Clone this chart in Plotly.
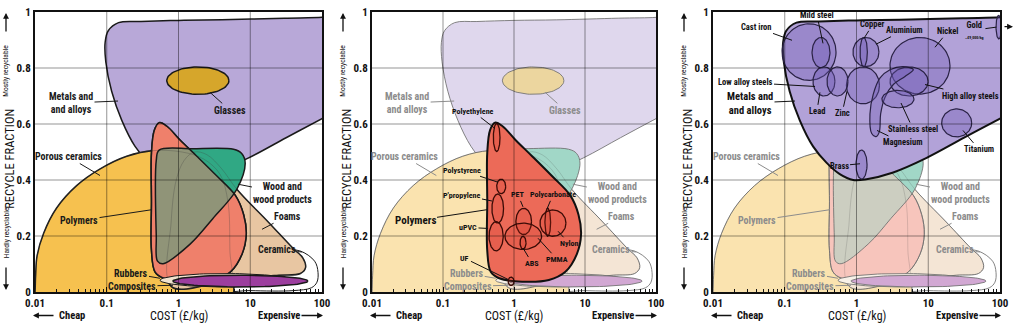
import numpy as np
import plotly.graph_objects as go

# ===================== DATA (cost in £/kg, recycle fraction 0-1) =====================
x_tick_vals = [0.01, 0.1, 1, 10, 100]
x_tick_text = ["0.01", "0.1", "1", "10", "100"]
y_tick_vals = [0, 0.2, 0.4, 0.6, 0.8, 1.0]
y_tick_text = ["0", "0.2", "0.4", "0.6", "0.8", "1"]
x_minor_vals = [m * 10.0 ** e for e in range(-2, 2) for m in range(2, 10)]

# material-family envelopes (outline vertices)
metals_cost = [126, 100, 30, 4.0, 1.0, 0.3, 0.146, 0.105, 0.095, 0.097, 0.117, 0.162, 0.248,
               0.381, 0.585, 0.90, 1.38, 3.25, 9.5, 31.6, 100, 126, 126]
metals_frac = [0.985, 0.981, 0.978, 0.972, 0.970, 0.966, 0.962, 0.933, 0.892, 0.822, 0.717, 0.613,
               0.520, 0.462, 0.421, 0.400, 0.403, 0.427, 0.479, 0.551, 0.619, 0.632, 0.985]

porous_cost = [1.0, 0.0097, 0.0100, 0.0102, 0.0107, 0.0132, 0.020, 0.038, 0.081, 0.19, 0.45,
               1.12, 2.24, 3.8, 4.9, 5.2, 5.25, 1.0]
porous_frac = [-0.03, -0.03, 0.0, 0.06, 0.13, 0.21, 0.30, 0.38, 0.44, 0.485, 0.505,
               0.50, 0.475, 0.42, 0.32, 0.15, -0.03, -0.03]

foams_cost = [3.2, 0.79, 0.79, 0.93, 1.2, 1.66, 2.5, 4.0, 6.5, 17.8, 39.8, 54, 59, 50, 25, 10, 3.2]
foams_frac = [0.03, 0.02, 0.25, 0.40, 0.47, 0.50, 0.49, 0.44, 0.367, 0.25, 0.155, 0.122, 0.087,
              0.066, 0.06, 0.05, 0.03]

ceram_cost = [10, 4.2, 4.5, 7.9, 25, 49, 79, 88, 85, 71, 40, 10]
ceram_frac = [0.005, 0.01, 0.10, 0.14, 0.15, 0.147, 0.11, 0.07, 0.035, 0.015, 0.005, 0.005]

poly_cost = [0.54, 0.69, 1.05, 1.8, 3.4, 6.2, 8.1, 8.8, 7.7, 5.3, 3.1, 1.3, 0.62, 0.47, 0.42,
             0.42, 0.42, 0.46, 0.54]
poly_frac = [0.605, 0.592, 0.543, 0.485, 0.415, 0.345, 0.276, 0.206, 0.136, 0.072, 0.043, 0.037,
             0.049, 0.072, 0.148, 0.322, 0.497, 0.578, 0.605]

wood_cost = [1.58, 5.85, 7.6, 8.5, 6.5, 3.0, 1.45, 0.61, 0.51, 0.49, 0.49, 0.537, 1.58]
wood_frac = [0.512, 0.51, 0.495, 0.46, 0.367, 0.262, 0.171, 0.101, 0.11, 0.2, 0.47, 0.507, 0.512]

# elliptical families: centre cost, centre fraction, half-width (decades), half-height
glass_ell = (1.86, 0.755, 0.433, 0.049)
rubber_ell = (4.45, 0.042, 0.906, 0.024)
composite_ell = (7.3, 0.039, 0.94, 0.021)

# individual polymers
poly_names = ["Polyethylene", "Polystyrene", "P'propylene", "uPVC", "UF", "PET", "PMMA", "ABS",
              "Polycarbonate", "Nylon"]
poly_c = [0.57, 0.66, 0.59, 0.56, 0.91, 1.37, 1.35, 1.34, 2.99, 3.54]
poly_f = [0.552, 0.377, 0.298, 0.199, 0.038, 0.252, 0.199, 0.176, 0.249, 0.246]
poly_rx = [0.047, 0.063, 0.082, 0.10, 0.042, 0.11, 0.258, 0.042, 0.04, 0.183]
poly_ry = [0.05, 0.026, 0.052, 0.052, 0.015, 0.047, 0.047, 0.023, 0.05, 0.047]

# individual metals
metal_names = ["Cast iron", "Mild steel", "Aluminium", "Copper", "Copper core", "Lead", "Zinc",
               "Nickel", "High alloy steels", "Stainless steel", "Titanium", "Brass", "Gold"]
metal_c = [0.218, 0.320, 1.23, 1.355, 1.26, 0.352, 0.543, 7.67, 5.40, 3.78, 24.9, 1.175, 96.2]
metal_f = [0.857, 0.855, 0.738, 0.857, 0.857, 0.752, 0.752, 0.808, 0.752, 0.689, 0.604, 0.455, 0.946]
metal_rx = [0.376, 0.125, 0.23, 0.181, 0.051, 0.153, 0.146, 0.418, 0.265, 0.223, 0.209, 0.077, 0.039]
metal_ry = [0.101, 0.054, 0.066, 0.052, 0.052, 0.052, 0.052, 0.101, 0.052, 0.031, 0.050, 0.052, 0.042]

magnesium_cost = [1.71, 2.13, 2.93, 4.49, 6.19, 4.74, 3.26, 2.49, 2.17, 2.08, 1.87, 1.63, 1.54, 1.71]
magnesium_frac = [0.706, 0.765, 0.794, 0.805, 0.794, 0.770, 0.741, 0.695, 0.636, 0.572, 0.555,
                  0.566, 0.636, 0.706]

# ===================== STYLE / LAYOUT =====================
W, H = 1019, 325
ML, MR, MT, MB = 35, 19, 6, 33
PW, PH = W - ML - MR, H - MT - MB
PANEL_L = [35, 372, 713]
PANEL_R = [322, 656, 1000]
FONT = "Liberation Sans Narrow, Roboto Condensed, DejaVu Sans Condensed, Arial Narrow, Roboto, sans-serif"

COL = dict(metals=(184, 168, 216), glass=(214, 166, 43), porous=(246, 193, 79),
           foams=(232, 198, 162), polymers=(239, 128, 107), wood=(48, 168, 132),
           rubbers=(240, 226, 205), composites=(156, 62, 158))


def rgba(c, a=1.0):
    return f"rgba({c[0]},{c[1]},{c[2]},{a})"


def fade(c, k):
    return tuple(int(v + (255 - v) * k) for v in c)


def ellipse(c, f, rx, ry, n=90):
    t = np.linspace(0, 2 * np.pi, n)
    return 10 ** (np.log10(c) + rx * np.cos(t)), f + ry * np.sin(t)


def ax_names(p):
    return ("x", "y") if p == 1 else (f"x{p}", f"y{p}")


fig = go.Figure()


def region(p, xs, ys, fill=None, lc="rgba(0,0,0,0)", lw=0.0, smooth=True):
    xa, ya = ax_names(p)
    fig.add_trace(go.Scatter(
        x=list(xs), y=list(ys), xaxis=xa, yaxis=ya, mode="lines",
        fill="toself" if fill else "none", fillcolor=fill,
        line=dict(color=lc, width=lw, shape="spline" if smooth else "linear", smoothing=1.0),
        hoverinfo="skip", showlegend=False))


for p in (1, 2, 3):
    faded = p != 1
    k = 0.55 if faded else 0.0
    lc = "rgba(110,110,110,0.85)" if faded else "#1a1a1a"
    lw = 1.0 if faded else 1.5
    c = {n: fade(v, k) for n, v in COL.items()}

    if p != 3:
        region(p, metals_cost, metals_frac, rgba(c["metals"]), lc, lw)
        gx, gy = ellipse(*glass_ell)
        region(p, gx, gy, rgba(c["glass"]), lc, lw, smooth=False)
    region(p, ceram_cost, ceram_frac, None, lc, 1.0)
    region(p, porous_cost, porous_frac, rgba(c["porous"]), lc, lw)
    region(p, foams_cost, foams_frac, rgba(c["foams"]), lc, lw)
    if p != 2:
        region(p, poly_cost, poly_frac, rgba(c["polymers"]), lc, lw)
    region(p, wood_cost, wood_frac, rgba(c["wood"]))
    if p != 2:
        region(p, poly_cost, poly_frac, rgba(c["polymers"], 0.5))
    faint = "rgba(60,60,60,0.28)" if not faded else "rgba(60,60,60,0.18)"
    region(p, porous_cost, porous_frac, None, faint, 1.0)
    region(p, foams_cost, foams_frac, None, faint, 1.0)
    region(p, wood_cost, wood_frac, None, lc, lw)
    if p != 2:
        region(p, poly_cost, poly_frac, None, lc, lw)
    rx_, ry_ = ellipse(*rubber_ell)
    region(p, rx_, ry_, rgba(c["rubbers"]), lc, 1.0, smooth=False)
    cx_, cy_ = ellipse(*composite_ell)
    region(p, cx_, cy_, rgba(c["composites"]), lc, lw, smooth=False)

    if p == 2:
        region(p, poly_cost, poly_frac, rgba((236, 106, 88)), "#111", 2.0)
        for i in range(len(poly_names)):
            ex, ey = ellipse(poly_c[i], poly_f[i], poly_rx[i], poly_ry[i])
            region(p, ex, ey, "rgba(205,50,35,0.18)", "#3b0b06", 1.3, smooth=False)
    if p == 3:
        region(p, metals_cost, metals_frac, rgba((178, 162, 216)), "#111", 2.0)
        for i in range(len(metal_names)):
            if metal_names[i] == "Stainless steel":
                region(p, magnesium_cost, magnesium_frac, "rgba(110,90,180,0.35)", "#2a2245", 1.2)
            ex, ey = ellipse(metal_c[i], metal_f[i], metal_rx[i], metal_ry[i])
            region(p, ex, ey, "rgba(110,90,180,0.35)", "#2a2245", 1.2, smooth=False)

# ---------------- axes ----------------
layout = dict(width=W, height=H, margin=dict(l=ML, r=MR, t=MT, b=MB),
              paper_bgcolor="white", plot_bgcolor="white", showlegend=False,
              font=dict(family=FONT, color="#111"))
shapes = []
for p in (1, 2, 3):
    d0 = (PANEL_L[p - 1] - ML) / PW
    d1 = (PANEL_R[p - 1] - ML) / PW
    xa, ya = ax_names(p)
    xkey = "xaxis" if p == 1 else f"xaxis{p}"
    ykey = "yaxis" if p == 1 else f"yaxis{p}"
    layout[xkey] = dict(domain=[d0, d1], anchor=ya, type="log", range=[-2, 2],
                        tickvals=x_tick_vals, ticktext=x_tick_text, ticks="inside", ticklen=5,
                        tickcolor="#111", tickwidth=1,
                        minor=dict(tickvals=x_minor_vals, ticks="inside", ticklen=3,
                                   tickcolor="#111", showgrid=False),
                        showgrid=False, zeroline=False, showline=True, mirror=True,
                        linecolor="#111", linewidth=2, layer="above traces",
                        tickfont=dict(family=FONT, size=11, color="#111", weight="bold"))
    layout[ykey] = dict(domain=[0, 1], anchor=xa, range=[0, 1], tickvals=y_tick_vals,
                        ticktext=y_tick_text, ticks="", showgrid=False, zeroline=False,
                        showline=True, mirror=True, linecolor="#111", linewidth=2,
                        layer="above traces",
                        tickfont=dict(family=FONT, size=11, color="#111", weight="bold"))
    for v in x_tick_vals[1:-1]:
        shapes.append(dict(type="line", layer="above", xref=xa, yref=f"{ya} domain",
                           x0=v, x1=v, y0=0, y1=1,
                           line=dict(color="rgba(0,0,0,0.42)", width=1)))
    for v in y_tick_vals[1:-1]:
        shapes.append(dict(type="line", layer="above", xref=f"{xa} domain", yref=ya,
                           x0=0, x1=1, y0=v, y1=v,
                           line=dict(color="rgba(0,0,0,0.42)", width=1)))
layout["shapes"] = shapes
fig.update_layout(**layout)


# ---------------- annotations ----------------
def X(px):
    return (px - ML) / PW


def Y(py):
    return (H - MB - py) / PH


ann = []


def label(p, text, tip_log, tip_f, dx, dy, color, size=10, weight="bold"):
    xa, ya = ax_names(p)
    ann.append(dict(xref=xa, yref=ya, x=tip_log, y=tip_f, ax=dx, ay=dy, text=text,
                    showarrow=True, arrowhead=0, arrowwidth=1, arrowcolor=color,
                    font=dict(family=FONT, size=size, color=color, weight=weight),
                    align="center", borderpad=1))


def ptext(x, y, text, size, color="#111", angle=0, weight="bold"):
    ann.append(dict(xref="paper", yref="paper", x=X(x), y=Y(y), text=text, showarrow=False,
                    textangle=angle, xanchor="center", yanchor="middle",
                    font=dict(family=FONT, size=size, color=color, weight=weight)))


def parrow(x0, y0, x1, y1):
    # arrow from (x0,y0) to head at (x1,y1), pixel coordinates
    ann.append(dict(xref="paper", yref="paper", x=X(x1), y=Y(y1), ax=x0 - x1, ay=y0 - y1,
                    text="", showarrow=True, arrowhead=2, arrowsize=0.9, arrowwidth=1.3,
                    arrowcolor="#111"))


fam_labels = [
    ("Metals and<br>and alloys", -0.843, 0.682, -47, 2),
    ("Glasses", 0.439, 0.713, 20, 18),
    ("Porous ceramics", -1.094, 0.416, -32, -19),
    ("Polymers", -0.369, 0.294, -73, 11),
    ("Wood and<br>wood products", 0.829, 0.385, 45, 9),
    ("Foams", 1.164, 0.224, 25, -13),
    ("Ceramics", 1.721, 0.143, -25, -2),
    ("Rubbers", -0.258, 0.049, -29, -5),
    ("Composites", -0.077, 0.024, -41, 1),
]
for p in (1, 2, 3):
    for t, lx, lf, dx, dy in fam_labels:
        if p == 3 and t == "Glasses":
            continue
        if p == 2 and t == "Polymers":
            continue
        if p == 3 and t.startswith("Metals"):
            continue
        col = "#1a1a1a" if p == 1 else "#8c8c8c"
        label(p, t, lx, lf, dx, dy, col, 10)

label(2, "Polymers", -0.380, 0.294, -72, 11, "#111", 11)
poly_labels = [
    ("Polyethylene", -0.268, 0.584, -22, -17),
    ("Polystyrene", -0.225, 0.392, -36, -12),
    ("P'propylene", -0.31, 0.325, -30, -6),
    ("uPVC", -0.366, 0.227, -20, -1),
    ("UF", -0.085, 0.045, -43, -21),
    ("PET", 0.127, 0.304, -5, -12),
    ("Polycarbonate", 0.465, 0.297, 6, -14),
    ("ABS", 0.127, 0.157, 9, 15),
    ("PMMA", 0.338, 0.192, 19, 21),
    ("Nylon", 0.620, 0.217, 11, 12),
]
for t, lx, lf, dx, dy in poly_labels:
    label(2, t, lx, lf, dx, dy, "#111", 8)

label(3, "Metals and<br>and alloys", -0.857, 0.682, -45, 2, "#111", 10.5)
metal_labels = [
    ("Cast iron", -0.899, 0.899, -36, -13),
    ("Mild steel", -0.467, 0.888, -6, -28),
    ("Copper", 0.104, 0.906, 9, -14),
    ("Aluminium", 0.272, 0.885, 28, -14),
    ("Nickel", 1.094, 0.874, 13, -16),
    ("Low alloy steels", -0.578, 0.734, -70, -4),
    ("Lead", -0.51, 0.713, -3, 19),
    ("Zinc", -0.132, 0.717, -5, 22),
    ("High alloy steels", 0.955, 0.741, 45, 11),
    ("Stainless steel", 0.62, 0.675, 12, 26),
    ("Magnesium", 0.286, 0.577, 25, 12),
    ("Titanium", 1.484, 0.577, 16, 19),
    ("Brass", 0.049, 0.458, -21, 2),
    ("Gold<br><span style='font-size:4px'>~£9,000/kg</span>", 1.95, 0.946, -22, 3),
]
for t, lx, lf, dx, dy in metal_labels:
    label(3, t, lx, lf, dx, dy, "#111", 8.5)
parrow(1003, 21, 1013, 21)

for i in range(3):
    L, R = PANEL_L[i], PANEL_R[i]
    ptext(L - 25, 156, "RECYCLE FRACTION", 12.5, angle=-90, weight="normal")
    ptext(L - 29, 66, "Mostly recyclable", 7.5, angle=-90, weight="normal")
    ptext(L - 29, 232, "Hardly recyclable", 7.5, angle=-90, weight="normal")
    parrow(L - 29, 27, L - 29, 7)
    parrow(L - 29, 266, L - 29, 290)
    ptext((L + R) / 2, 317, "COST (£/kg)", 12, weight="normal")
    ptext(L + 37, 316, "Cheap", 10.5)
    parrow(L + 20, 316, L - 2, 316)
    ptext(R - 43, 316, "Expensive", 10.5)
    parrow(R - 22, 316, R + 1, 316)

fig.update_layout(annotations=ann)
fig.write_html("out.html")
